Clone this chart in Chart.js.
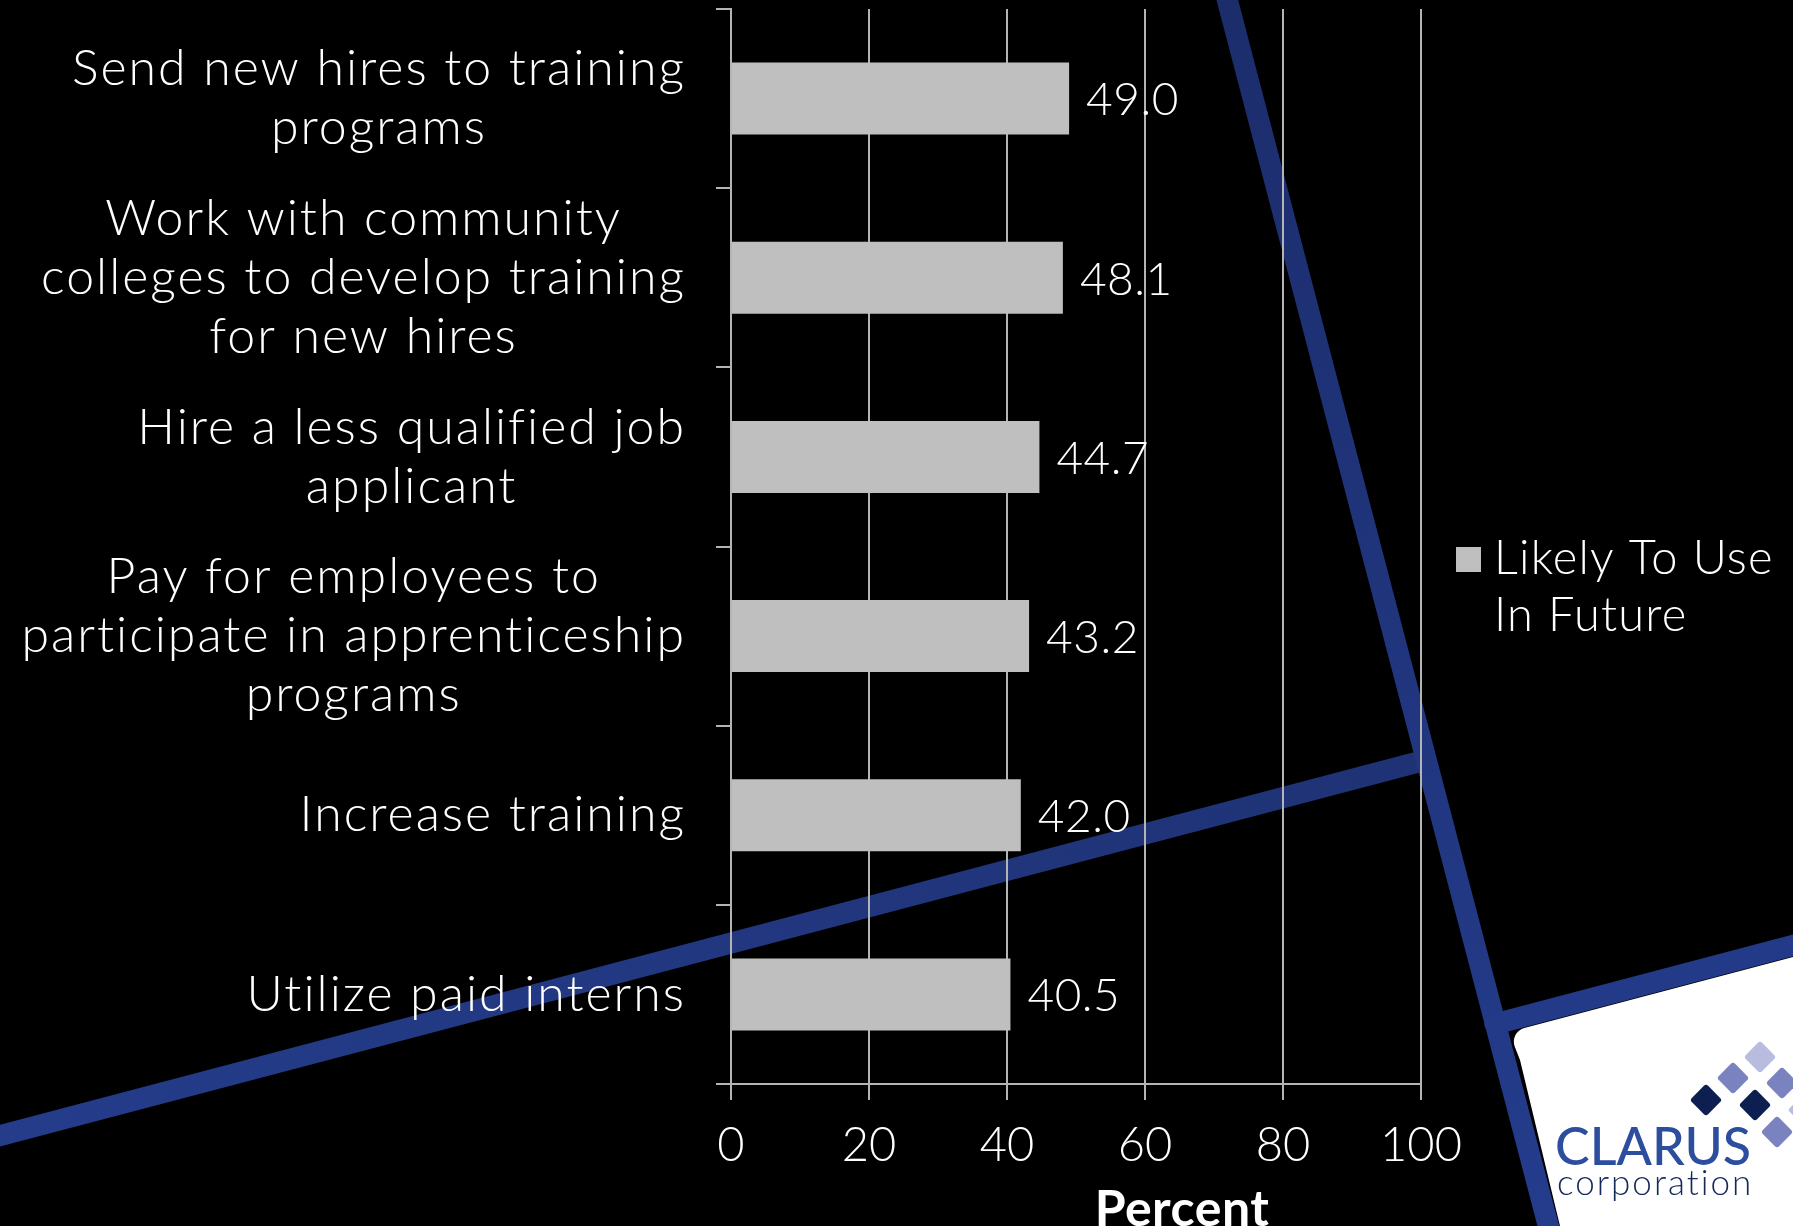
<!DOCTYPE html>
<html>
<head>
<meta charset="utf-8">
<script src="https://cdn.jsdelivr.net/npm/chart.js@4.4.1/dist/chart.umd.min.js"></script>
<style>
  html, body { margin: 0; padding: 0; background: #000; overflow: hidden; }
  #c { display: block; }
</style>
</head>
<body>
<canvas id="c" width="1793" height="1226"></canvas>
<script>
// Survey responses: share of employers likely to use each approach
const categories = [
  ['Send new hires to training', 'programs'],
  ['Work with community', 'colleges to develop training', 'for new hires'],
  ['Hire a less qualified job', 'applicant'],
  ['Pay for employees to', 'participate in apprenticeship', 'programs'],
  ['Increase training'],
  ['Utilize paid interns']
];
const likelyToUse = [49.0, 48.1, 44.7, 43.2, 42.0, 40.5];
const seriesName = ['Likely To Use', 'In Future'];
const xTickValues = [0, 20, 40, 60, 80, 100];
const axisTitle = 'Percent';
const brandName = 'CLARUS';
const brandTagline = 'corporation';

const FONT = "Lato, 'Open Sans', sans-serif";
const GRID = '#b4b4b4';
const BAR = '#bfbfbf';

// Slide backdrop: black field, blue frame bands and the white logo panel
const backdrop = {
  id: 'backdrop',
  beforeDraw(chart) {
    const ctx = chart.ctx;
    const W = chart.width, H = chart.height;
    ctx.save();
    ctx.fillStyle = '#000';
    ctx.fillRect(0, 0, W, H);

    ctx.lineCap = 'round';
    ctx.lineJoin = 'round';
    ctx.lineWidth = 21;

    // shallow band rising from the left edge
    let g = ctx.createLinearGradient(0, 1136, 1426, 760);
    g.addColorStop(0, '#243c8a');
    g.addColorStop(1, '#1f3275');
    ctx.strokeStyle = g;
    ctx.beginPath();
    ctx.moveTo(-20, 1141);
    ctx.lineTo(1422, 761);
    ctx.stroke();

    // steep band from the top edge
    g = ctx.createLinearGradient(1226, 0, 1549, 1226);
    g.addColorStop(0, '#1c2d6c');
    g.addColorStop(1, '#243c8c');
    ctx.strokeStyle = g;
    ctx.lineCap = 'butt';
    ctx.beginPath();
    ctx.moveTo(1226, -5);
    ctx.lineTo(1552, 1240);
    ctx.stroke();

    // band running to the right edge
    ctx.strokeStyle = '#233a88';
    ctx.lineCap = 'round';
    ctx.beginPath();
    ctx.moveTo(1495, 1024);
    ctx.lineTo(1810, 941);
    ctx.stroke();

    // white logo panel with a rounded top-left corner
    ctx.fillStyle = '#fff';
    ctx.beginPath();
    const r = 14;
    ctx.moveTo(1520, 1060);
    ctx.arcTo(1509, 1032, 1540, 1024, r);
    ctx.lineTo(1793, 957);
    ctx.lineTo(1793, 1226);
    ctx.lineTo(1560, 1226);
    ctx.closePath();
    ctx.fill();

    // logo mark: rotated rounded squares
    const tiles = [
      [1760, 1057, '#b8bde0'],
      [1733, 1078, '#7a82c0'],
      [1782, 1083, '#7a82c0'],
      [1706, 1100, '#0d1f50'],
      [1755, 1105, '#0d1f50'],
      [1804, 1110, '#b8bde0'],
      [1777, 1132, '#7a82c0']
    ];
    tiles.forEach(([x, y, c]) => {
      ctx.save();
      ctx.translate(x, y);
      ctx.rotate(Math.PI / 4);
      ctx.fillStyle = c;
      ctx.beginPath();
      ctx.roundRect(-11.5, -11.5, 23, 23, 3);
      ctx.fill();
      ctx.restore();
    });

    ctx.textAlign = 'left';
    ctx.textBaseline = 'alphabetic';
    ctx.fillStyle = '#2d4d9e';
    ctx.font = `500 52px ${FONT}`;
    ctx.fillText(brandName, 1555, 1165, 198);
    ctx.fillStyle = '#14285a';
    ctx.font = `300 35px ${FONT}`;
    ctx.letterSpacing = '2px';
    ctx.fillText(brandTagline, 1557, 1195, 198);
    ctx.restore();
  }
};

// Value labels just past the end of each bar
const valueLabels = {
  id: 'valueLabels',
  afterDatasetsDraw(chart) {
    const ctx = chart.ctx;
    const meta = chart.getDatasetMeta(0);
    ctx.save();
    ctx.fillStyle = '#fff';
    ctx.font = `300 46px ${FONT}`;
    ctx.letterSpacing = '0.5px';
    ctx.textAlign = 'left';
    ctx.textBaseline = 'middle';
    meta.data.forEach((bar, i) => {
      ctx.fillText(chart.data.datasets[0].data[i].toFixed(1), bar.x + 17, bar.y + 2);
    });
    ctx.restore();
  }
};

// Category labels: each block right-aligned to the axis, its lines centred
const categoryLabels = {
  id: 'categoryLabels',
  afterDraw(chart) {
    const ctx = chart.ctx;
    const y = chart.scales.y;
    const right = y.right - 45;
    const lineH = 59;
    ctx.save();
    ctx.fillStyle = '#fff';
    ctx.font = `300 50px ${FONT}`;
    ctx.letterSpacing = '2px';
    ctx.textAlign = 'center';
    ctx.textBaseline = 'middle';
    chart.data.labels.forEach((lines, i) => {
      const cy = y.getPixelForValue(i);
      const w = Math.max(...lines.map(s => ctx.measureText(s).width));
      const cx = right - w / 2;
      const y0 = cy - (lines.length - 1) * lineH / 2;
      lines.forEach((s, k) => ctx.fillText(s, cx, y0 + k * lineH));
    });
    ctx.restore();
  }
};

// Legend and axis title
const legendAndTitle = {
  id: 'legendAndTitle',
  afterDraw(chart) {
    const ctx = chart.ctx;
    const ds = chart.data.datasets[0];
    ctx.save();
    ctx.fillStyle = ds.backgroundColor;
    ctx.fillRect(1456, 547, 25, 25);
    ctx.fillStyle = '#fff';
    ctx.font = `300 47px ${FONT}`;
    ctx.letterSpacing = '1.2px';
    ctx.textAlign = 'left';
    ctx.textBaseline = 'alphabetic';
    seriesName.forEach((s, k) => ctx.fillText(s, 1494, 574 + k * 57));

    ctx.font = `bold 50px ${FONT}`;
    ctx.letterSpacing = '0.5px';
    ctx.textAlign = 'center';
    ctx.fillText(axisTitle, 1182, 1226);
    ctx.restore();
  }
};

new Chart(document.getElementById('c'), {
  type: 'bar',
  data: {
    labels: categories,
    datasets: [{
      label: seriesName.join(' '),
      data: likelyToUse,
      backgroundColor: BAR,
      borderWidth: 0,
      barPercentage: 0.402,
      categoryPercentage: 1
    }]
  },
  options: {
    indexAxis: 'y',
    responsive: false,
    animation: false,
    devicePixelRatio: 1,
    layout: { padding: { top: 9, right: 372, left: 0, bottom: 0 } },
    plugins: {
      legend: { display: false },
      tooltip: { enabled: false }
    },
    scales: {
      x: {
        min: 0,
        max: 100,
        afterBuildTicks: s => { s.ticks = xTickValues.map(v => ({ value: v })); },
        afterFit: s => { s.height = 142; },
        grid: { color: GRID, lineWidth: 2, drawTicks: true, tickLength: 16, tickColor: GRID },
        border: { color: GRID, width: 2 },
        ticks: {
          color: '#fff',
          font: { family: FONT, size: 47, weight: '300' },
          padding: 18,
          maxRotation: 0,
          autoSkip: false
        }
      },
      y: {
        afterFit: s => { s.width = 731; },
        grid: { drawOnChartArea: false, drawTicks: true, tickLength: 15, color: GRID, lineWidth: 2 },
        border: { color: GRID, width: 2 },
        ticks: { display: false }
      }
    }
  },
  plugins: [backdrop, valueLabels, categoryLabels, legendAndTitle]
});
</script>
</body>
</html>
